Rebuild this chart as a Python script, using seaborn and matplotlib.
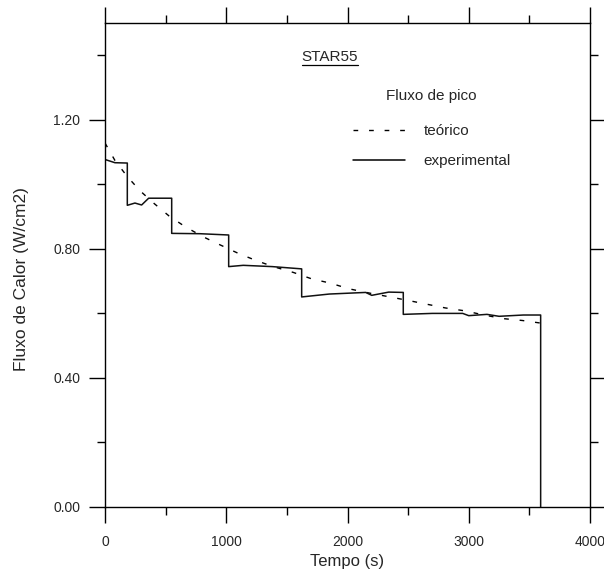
import matplotlib
matplotlib.use("Agg")
import matplotlib.pyplot as plt
import seaborn as sns
import pandas as pd
from matplotlib.ticker import MultipleLocator, FormatStrFormatter
from matplotlib.lines import Line2D

# ---- data ----
exp_t = [0, 82, 184, 184, 247, 302, 360, 550, 550, 783, 1020, 1020, 1140, 1380, 1622,
         1622, 1850, 2150, 2200, 2340, 2460, 2460, 2700, 2950, 3000, 3150, 3250, 3450, 3593, 3593]
exp_v = [1.077, 1.067, 1.066, 0.935, 0.942, 0.936, 0.957, 0.957, 0.848, 0.847, 0.843, 0.745,
         0.749, 0.745, 0.738, 0.651, 0.660, 0.665, 0.656, 0.666, 0.665, 0.597, 0.600, 0.600,
         0.593, 0.597, 0.591, 0.595, 0.595, 0.0]

theo_t = [0, 82, 184, 289, 407, 528, 660, 806, 957, 1094, 1245, 1388, 1553, 1705, 1856,
          2015, 2181, 2336, 2488, 2647, 2806, 2966, 3126, 3280, 3442, 3593]
theo_v = [1.128, 1.074, 1.024, 0.980, 0.940, 0.902, 0.869, 0.838, 0.811, 0.787, 0.764, 0.745,
          0.727, 0.707, 0.694, 0.676, 0.663, 0.652, 0.641, 0.629, 0.617, 0.608, 0.595, 0.584,
          0.578, 0.570]

series_labels = ["teórico", "experimental"]
legend_title = "Fluxo de pico"
chart_title = "STAR55"
x_label = "Tempo (s)"
y_label = "Fluxo de Calor (W/cm2)"

# ---- style ----
sns.set_style("ticks")
plt.rcParams["font.family"] = ["Liberation Sans", "DejaVu Sans"]
plt.rcParams["axes.linewidth"] = 1.0

fig = plt.figure(figsize=(6.04, 5.69), dpi=100)
ax = fig.add_axes([105 / 604, 1 - 507 / 569, 485 / 604, 484 / 569])

df_theo = pd.DataFrame({"t": theo_t, "v": theo_v})
df_exp = pd.DataFrame({"t": exp_t, "v": exp_v})

sns.lineplot(data=df_theo, x="t", y="v", ax=ax, sort=False, estimator=None,
             color="black", linewidth=1.0, linestyle=(0, (3.4, 7.8)), label=series_labels[0])
sns.lineplot(data=df_exp, x="t", y="v", ax=ax, sort=False, estimator=None,
             color="#111111", linewidth=1.1, label=series_labels[1])

ax.set_xlim(0, 4000)
ax.set_ylim(0, 1.5)
ax.xaxis.set_major_locator(MultipleLocator(1000))
ax.xaxis.set_minor_locator(MultipleLocator(500))
ax.yaxis.set_major_locator(MultipleLocator(0.4))
ax.yaxis.set_minor_locator(MultipleLocator(0.2))
ax.yaxis.set_major_formatter(FormatStrFormatter("%.2f"))

for s in ax.spines.values():
    s.set_visible(True)
    s.set_color("black")

ax.tick_params(which="both", direction="out", top=True, right=True,
               labeltop=False, labelright=False, color="black", width=1.0)
ax.tick_params(which="major", length=11.5)
ax.tick_params(which="minor", length=5.8)
ax.tick_params(axis="x", which="major", pad=8.5, labelsize=10)
ax.tick_params(axis="y", which="major", pad=6.5, labelsize=10)

ax.set_xlabel(x_label, fontsize=12, labelpad=4)
ax.set_ylabel(y_label, fontsize=12.5)
ax.yaxis.set_label_coords(-0.157, 0.47)

leg = ax.legend(loc="center", bbox_to_anchor=(0.674, 0.745),
                frameon=False, fontsize=11, handlelength=3.4,
                handletextpad=1.2, labelspacing=1.05)
for h in leg.get_lines():
    h.set_color("black")

ax.text(0.672, 0.849, legend_title, transform=ax.transAxes, ha="center", va="center",
        fontsize=11)

txt = ax.text(0.464, 0.930, chart_title, transform=ax.transAxes, ha="center", va="center",
              fontsize=11)
fig.canvas.draw()
bb = txt.get_window_extent()
ybase = bb.y0 - 1.5
fig.add_artist(Line2D([bb.x0, bb.x1], [ybase, ybase], transform=None, color="black", lw=0.9))

fig.savefig("out.png", dpi=100)
